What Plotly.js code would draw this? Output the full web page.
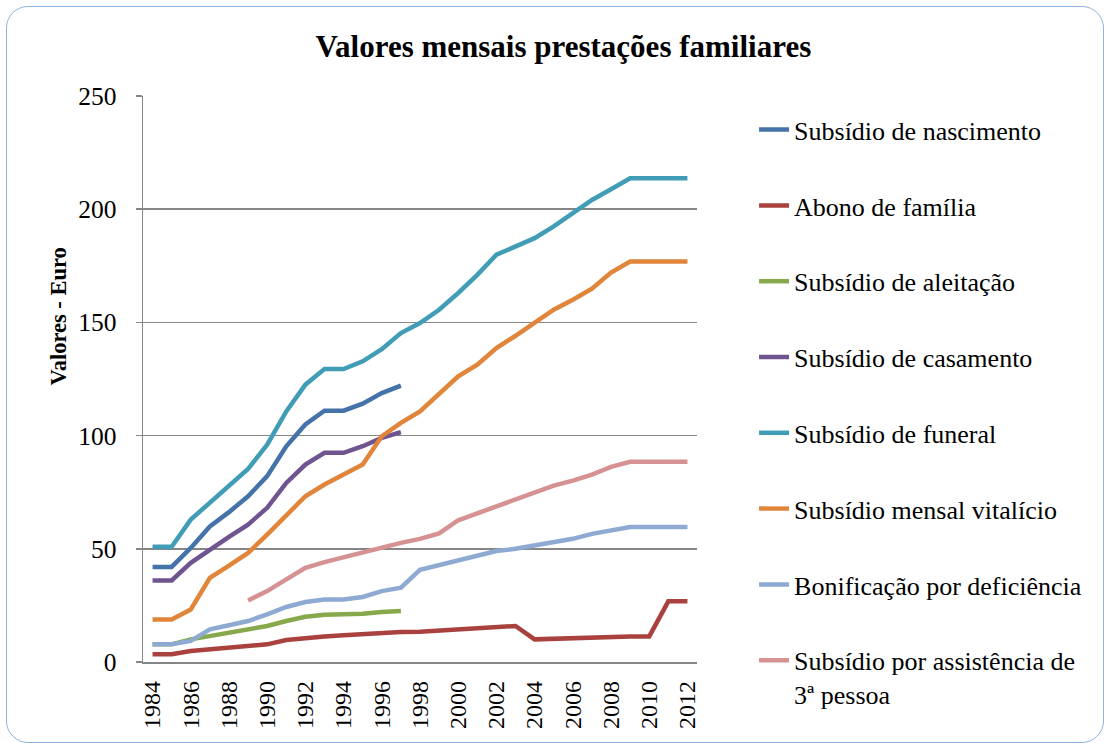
<!DOCTYPE html>
<html>
<head>
<meta charset="utf-8">
<script src="https://cdn.plot.ly/plotly-3.0.1.min.js"></script>
<style>
  body { margin: 0; background: #fff; }
  #wrap { position: relative; width: 1109px; height: 743px; }
  #chart { position: absolute; left: 0; top: 0; width: 1109px; height: 743px; }
  #frame {
    position: absolute; left: 6px; top: 6px; width: 1096px; height: 735px;
    border: 1.5px solid #8db3e2; border-radius: 22px; pointer-events: none;
  }
</style>
</head>
<body>
<div id="wrap">
  <div id="chart"></div>
  <div id="frame"></div>
</div>
<script>
// Years on the category axis
const years = [1984, 1985, 1986, 1987, 1988, 1989, 1990, 1991, 1992, 1993, 1994, 1995, 1996, 1997, 1998,
  1999, 2000, 2001, 2002, 2003, 2004, 2005, 2006, 2007, 2008, 2009, 2010, 2011, 2012];

// Monthly values (euro)
const nascimento = [42, 42, 50.4, 59.9, 66.2, 73.2, 82.1, 95.3, 104.9, 111, 111, 114.1, 118.8, 122.1];
const abono = [3.4, 3.4, 4.9, 5.6, 6.2, 7.1, 7.8, 9.7, 10.6, 11.3, 11.8, 12.4, 12.9, 13.2, 13.4,
  13.9, 14.4, 14.9, 15.4, 15.9, 10.0, 10.3, 10.6, 10.9, 11.0, 11.3, 11.3, 26.8, 26.8];
const aleitacao = [7.8, 7.8, 10, 11.5, 12.6, 14.1, 15.9, 18.1, 20, 20.9, 20.9, 21.3, 22.1, 22.5];
const casamento = [36, 36, 43.8, 49.7, 55.3, 60.7, 68.1, 79.1, 87.2, 92.4, 92.4, 95.3, 99, 101.5];
const funeral = [50.9, 50.9, 62.9, 70.3, 77.9, 85.3, 96, 110.7, 122.5, 129.4, 129.4, 132.8, 138.2, 145.3, 149.7,
  155.6, 163, 171, 179.9, 183.5, 187.2, 192.4, 198.2, 204.1, 208.8, 213.7, 213.7, 213.7, 213.7];
const vitalicio = [18.8, 18.8, 23.2, 37.2, 42.6, 48.2, 56.3, 65.1, 73.2, 78.4, 82.8, 87.2, 99.7, 105.6, 110.7,
  118.5, 126.2, 131.3, 138.7, 144.1, 149.7, 155.6, 160, 164.9, 172, 176.9, 176.9, 176.9, 176.9];
const deficiencia = [7.8, 7.8, 9.3, 14.4, 16.2, 18.1, 21, 24.3, 26.5, 27.6, 27.6, 28.7, 31.3, 32.8, 40.7,
  42.8, 44.9, 47.1, 49, 50, 51.5, 52.6, 54.4, 56.6, 58.2, 59.6, 59.6, 59.6, 59.6];
const terceiraPessoa = [null, null, null, null, null, 27.2, 31.3, 36.5, 41.6, 44.1, 46.3, 48.5, 50.9, 52.6, 54.4,
  56.8, 62.6, 65.6, 69.1, 72.1, 75, 77.9, 80.1, 82.8, 86.2, 88.4, 88.4, 88.4, 88.4];

const seriesNames = ['Subsídio de nascimento', 'Abono de família', 'Subsídio de aleitação', 'Subsídio de casamento',
  'Subsídio de funeral', 'Subsídio mensal vitalício', 'Bonificação por deficiência',
  'Subsídio por assistência de<br>3ª pessoa'];
const seriesValues = [nascimento, abono, aleitacao, casamento, funeral, vitalicio, deficiencia, terceiraPessoa];
const colors = ['#4573a9', '#a9413f', '#87a94b', '#6f5590', '#419db5', '#e0853a', '#8eaad3', '#d69292'];

const serif = 'Liberation Serif';

const traces = seriesValues.map((vals, i) => ({
  x: years.slice(0, vals.length),
  y: vals,
  name: seriesNames[i],
  legendgroup: 'g' + i, // one group per series so tracegroupgap spaces the legend out
  type: 'scatter',
  mode: 'lines',
  line: { color: colors[i], width: 4.5 },
  connectgaps: false,
  hoverinfo: 'x+y+name'
}));

const layout = {
  width: 1109,
  height: 743,
  margin: { l: 143, r: 412, t: 96, b: 81 },
  paper_bgcolor: 'rgba(0,0,0,0)',
  plot_bgcolor: 'rgba(0,0,0,0)',
  font: { family: serif, color: '#000' },
  title: {
    text: '<b>Valores mensais prestações familiares</b>',
    font: { family: serif, size: 31, color: '#000' },
    xref: 'container', x: 0.508, xanchor: 'center',
    yref: 'container', y: 0.938, yanchor: 'middle'
  },
  xaxis: {
    range: [1983.5, 2012.5],
    tickmode: 'linear', tick0: 1984, dtick: 2,
    tickangle: -90,
    tickfont: { family: serif, size: 24, color: '#000' },
    showgrid: false, zeroline: false,
    showline: true, linecolor: '#868686', linewidth: 1.5,
    ticks: '', ticklabelstandoff: 8
  },
  yaxis: {
    range: [0, 250],
    tickmode: 'linear', tick0: 0, dtick: 50,
    tickfont: { family: serif, size: 25.5, color: '#000' },
    showgrid: true, gridcolor: '#868686', gridwidth: 1.5,
    zeroline: false,
    showline: true, linecolor: '#868686', linewidth: 1.5,
    ticks: 'outside', ticklen: 6, tickcolor: '#868686', tickwidth: 1.5,
    ticklabelstandoff: 14
  },
  legend: {
    x: 1.103, xanchor: 'left',
    y: 0.982, yanchor: 'top',
    traceorder: 'grouped',
    tracegroupgap: 39,
    maxheight: 700,
    font: { family: serif, size: 26, color: '#000' },
    bgcolor: 'rgba(0,0,0,0)',
    valign: 'top'
  },
  annotations: [{
    text: '<b>Valores - Euro</b>',
    textangle: -90,
    xref: 'paper', yref: 'paper',
    x: -0.152, y: 0.61,
    xanchor: 'center', yanchor: 'middle',
    showarrow: false,
    font: { family: serif, size: 22.5, color: '#000' }
  }],
  showlegend: true
};

Plotly.newPlot('chart', traces, layout, { displayModeBar: false, staticPlot: true });
</script>
</body>
</html>
